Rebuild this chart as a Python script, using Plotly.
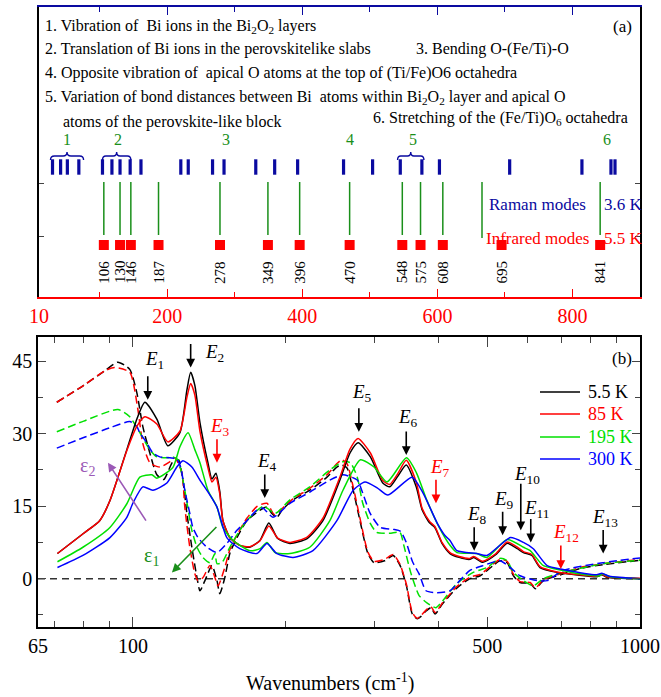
import math
import plotly.graph_objects as go

W, H = 661, 697
FONT = "Liberation Serif, Times New Roman, serif"

# ---------------- Panel (a) data ----------------
raman_modes = [30, 42, 52, 69, 104, 118, 130, 145, 161, 220, 231, 267, 284,
               331, 359, 393, 461, 504, 545, 577, 603, 707, 814, 857, 863]
ir_modes = [106, 130, 146, 187, 278, 349, 396, 470, 548, 575, 608, 695, 841]
correlated_modes = [106, 130, 146, 187, 278, 349, 396, 470, 548, 575, 608, 841]
group_labels = ["1", "2", "3", "4", "5", "6"]
group_centers = [52, 127, 287, 470, 564, 851]
brace_spans = [(27, 76), (104, 146), (541, 580)]
top_ticks = [10, 200, 400, 600, 800]
top_minor = [100, 300, 500, 700]

# ---------------- Panel (b) data ----------------
temps = ["5.5 K", "85 K", "195 K", "300 K"]
colors = ["#000000", "#ff0000", "#00e000", "#0000ff"]

wn_e2_black = [71, 80, 86, 90, 97.3, 101.8, 105.6, 111.5, 117.2, 123.8, 127.8, 130, 132.5, 135.6,
               140.6, 143.2, 145.8, 148.4, 150.5, 155.3, 162.5, 170, 178, 185.4, 193, 204, 220.6,
               237, 256, 268, 278, 294, 311, 321, 332, 346, 362, 372, 385, 394, 407, 422, 440,
               462, 470, 490, 520, 547, 573, 589, 612, 635, 686, 760, 821, 841, 860, 1000]
e2_black = [5.2, 9.4, 12, 16, 26.7, 33, 36.5, 33, 27.5, 30.2, 39, 42.7, 40, 32.3,
            24, 20.6, 21.8, 18, 12, 8.5, 6.9, 6.5, 7.9, 11.5, 8.3, 7.3, 8.3,
            12, 20.4, 26, 28.1, 25.2, 19.8, 19, 21, 23.5, 19, 14.2, 11.5, 10.6, 7.3, 5.2, 4.4,
            4.0, 4.4, 3.4, 5.0, 7.3, 6.2, 5.4, 4.8, 2.3, 1.3, 0.7, 0.4, 0.8, 0.3, 0]

wn_e2_red = wn_e2_black
e2_red = [5.2, 9.4, 12, 16, 26.5, 31.5, 33.5, 32, 28.3, 30.5, 37.5, 40.4, 38, 30.5,
          23, 20, 21, 17.5, 12, 8.5, 6.9, 6.6, 7.8, 10.9, 8.4, 7.5, 8.6,
          12.5, 21, 26.8, 29, 26, 20.3, 19.5, 21.5, 24.5, 20, 14.5, 11.8, 10.8, 7.5, 5.4, 4.6,
          4.2, 4.6, 3.6, 5.2, 7.6, 6.5, 5.6, 5.0, 2.5, 1.4, 0.8, 0.5, 0.9, 0.4, 0.1]

wn_e2_green = [71, 79.7, 90.1, 97.3, 103.2, 109, 111.5, 119.9, 123.8, 128.5, 132.5, 135.6, 140.6,
               146.5, 150.5, 157.7, 170.1, 178.2, 183.8, 190.8, 204, 223.3, 244.6, 259.6, 281,
               298.9, 317, 346.3, 362.4, 379.6, 401.9, 422, 435.6, 476.3, 499, 547, 589, 607.5,
               645, 705, 760, 833, 841, 873, 1000]
e2_green = [3.5, 6.5, 10.6, 15.5, 21, 21.5, 20.8, 23, 27.3, 30.2, 26.7, 24, 18.3,
            14.8, 10.6, 7.9, 5.8, 6.2, 7.5, 5.4, 5.2, 6.5, 12, 18.3, 24.6,
            23.1, 20, 25, 21.9, 16.3, 10.6, 6.9, 5.4, 5.2, 4.4, 8.1, 6.5, 5.8,
            2.7, 1.7, 1.0, 0.6, 1.0, 0.4, 0]

wn_e2_blue = [71, 79.7, 90.1, 97.3, 100, 104.6, 109.5, 116.7, 122.1, 125.5, 130.7, 135.6, 141.9,
              146.5, 153.2, 162.5, 175.6, 183.8, 192.3, 206.9, 226.5, 252.5, 271.9, 286.8, 303.2,
              318.3, 355.4, 373.5, 398.2, 412, 422, 435.6, 476.3, 499, 555, 589, 616, 656, 705,
              821, 841, 870, 1000]
e2_blue = [2.3, 4.8, 8.5, 12.7, 15.6, 19, 18.3, 19.8, 23.1, 24.4, 23.1, 20.4, 17.3,
           14.8, 8.5, 6.2, 5.2, 7.3, 5.2, 4.4, 5.8, 12, 18.3, 20, 18.8,
           17.3, 21, 17.7, 11.5, 9.0, 7.9, 5.8, 5.2, 4.8, 8.5, 7.5, 6.2, 2.7, 1.9,
           0.8, 1.1, 0.5, 0]

wn_e1_black = [70.8, 80, 88, 93.4, 98.6, 101.8, 104.6, 108, 111.5, 115, 119.9, 123, 125.5, 127.8,
               130.7, 133.8, 135.6, 138.7, 143.2, 146.5, 148.4, 151.8, 155.3, 160.4, 167.8, 178.2,
               183.8, 188, 192.3, 196.9, 206.9, 223.3, 241.4, 252.5, 258.4, 264.4, 271.9, 281.1,
               290.7, 298.9, 313.5, 326.1, 336.2, 346.3, 355.6, 363.6, 370, 378.5, 387.2, 394.5,
               408, 435.6, 462, 484, 513, 529.5, 547, 563, 580, 607.5, 622, 645, 687.5, 762, 845, 1000]
e1_black = [36.5, 40, 43, 44.8, 43.3, 38.5, 31.5, 26, 21.5, 20.5, 24.2, 24.6, 20.4, 13.5,
            6.5, 0.2, -2.5, -0.4, 2.7, -0.4, -3.1, 0.2, 5.2, 8.5, 12, 14.2,
            14.8, 13.5, 12.7, 14.2, 16.3, 18.3, 21, 23.1, 23.5, 22.9, 18.3, 11.5,
            5.2, 3.3, 3.7, 4.8, 2.8, -1.5, -7.3, -8.3, -7.8, -6.7, -6, -7.3,
            -5.2, -1.9, 0, 0.6, 2.7, 3.7, 3.3, 0.6, -0.8, -1, -2.1, -0.4, 0.6, 2.1, 2.9, 3.8]

wn_e1_red = [70.8, 80, 88, 92, 98.6, 102.3, 104.6, 108, 113, 118.3, 121, 124.9, 126.6, 129.5,
             132.5, 134.4, 137.4, 141.9, 145.2, 147.2, 151.8, 155.3, 160.4, 167.8, 176, 183.8,
             190, 196.9, 206.9, 223.3, 241.4, 252.5, 258.4, 264.4, 271.9, 281.1, 290.7, 298.9,
             313.5, 326.1, 336.2, 346.3, 355.6, 363.6, 370, 378.5, 387.2, 394.5, 408, 435.6,
             462, 484, 513, 529.5, 547, 563, 580, 607.5, 622, 645, 687.5, 762, 845, 1000]
e1_red = [36.5, 40, 43, 43.7, 42.7, 35, 28, 24, 23.1, 24.2, 25, 21.9, 14.8, 6.5,
          1, -0.4, 0.2, 2.7, 0.2, -1.5, 2.3, 6, 9, 12.5, 15, 15.6,
          13.3, 14.5, 16.5, 18.7, 21.5, 23.8, 24.6, 23.8, 19, 12, 5.5, 3.6,
          4, 5, 3, -1.2, -7, -8.2, -7.6, -6.5, -5.8, -7, -5, -1.6,
          0.3, 0.9, 3, 4, 3.6, 0.9, -0.6, -0.8, -1.9, -0.2, 0.8, 2.3, 3.1, 4]

wn_e1_green = [70.8, 80, 93.4, 98.6, 103.2, 108, 111.5, 116.7, 119.9, 122.8, 125.5, 128.3, 130.7,
               133.8, 137.4, 141.9, 145.2, 146.5, 149.8, 155.3, 162.5, 170.1, 181, 190.8, 204,
               223.3, 244.6, 259.6, 268.3, 277, 284, 293.7, 302.4, 320.8, 336.2, 342, 353, 366.8,
               380, 395.6, 408, 435.6, 469, 499, 529.5, 547, 562.7, 589, 616, 645, 705, 845, 1000]
e1_green = [30.4, 32.6, 35, 33.5, 30.2, 26.7, 25.2, 25, 25.2, 24.6, 20.4, 14.8, 10,
            6.5, 4.4, 3.3, 5.2, 3.1, 3.3, 6.5, 10, 12.7, 15, 13.5, 16.3,
            19, 22.5, 24.2, 24, 21, 15.6, 11.5, 9.6, 9.4, 9.6, 7, 1.3, -3.5,
            -5, -6, -4.6, -1, 1.3, 2.3, 4.2, 3.7, 1.3, -0.4, -1.5, 0, 1.3, 3.1, 3.8]

wn_e1_blue = [70.8, 80, 90, 98.6, 101.8, 103.2, 106.5, 109.5, 113, 118.3, 122, 124.2, 126.6,
              129.5, 131.3, 134.4, 140, 146.5, 153.2, 160.4, 167.8, 175.6, 180.4, 188.9, 204,
              223.3, 244.6, 259.6, 277, 284, 293.7, 307.6, 326.1, 337, 346, 356, 366.8, 378.5,
              398, 422, 441, 462, 490, 529.5, 555, 580, 626, 656, 705, 845, 1000]
e1_blue = [27, 29.2, 31.2, 32.5, 31.5, 30.2, 28.1, 26, 25.2, 25, 24.8, 23.1, 18.3,
           13.5, 10.6, 8.5, 6.5, 5.4, 7.3, 10, 12, 14.2, 14.6, 12.7, 15.6,
           17.9, 20.4, 21.5, 20.4, 17.7, 13.5, 10.6, 10.2, 9.8, 7.5, 3.5, 1, -2.5,
           -2.9, -2.5, -0.4, 1.7, 2.7, 3.7, 2.3, 0.6, -0.4, -0.4, 1.7, 3.3, 4.3]

eps2_sets = [(wn_e2_black, e2_black), (wn_e2_red, e2_red), (wn_e2_green, e2_green), (wn_e2_blue, e2_blue)]
eps1_sets = [(wn_e1_black, e1_black), (wn_e1_red, e1_red), (wn_e1_green, e1_green), (wn_e1_blue, e1_blue)]

mode_names = ["E1", "E2", "E3", "E4", "E5", "E6", "E7", "E8", "E9", "E10", "E11", "E12", "E13"]
mode_wn = [107, 130, 146.5, 182, 279, 346, 396, 471, 536, 582, 609, 698, 846]
mode_tip = [37.0, 43.7, 24.0, 16.7, 30.4, 25.6, 15.6, 5.8, 9.0, 10.0, 7.5, 2.0, 5.2]
mode_red = {"E3", "E7", "E12"}

x_ticks_b = [65, 100, 500, 1000]
y_ticks_b = [0, 15, 30, 45]

# ---------------- helpers (layout geometry, pixels -> paper) ----------------
def px(x):
    return x / W

def py(y):
    return 1 - y / H

A_L, A_R, A_T, A_B = 39, 640, 7, 297
B_L, B_R, B_T, B_B = 38, 640, 337, 627
# panel (a) vertical layout in axis units (0 at bottom, 290 at top)
ROW_RAMAN = 130
ROW_LINE = (62, 115)
ROW_IR = 52
ROW_IRLAB = 25
ROW_GROUP = 157
BRACE_Y = (137, 145)

fig = go.Figure()

# ---------------- Panel (a) traces ----------------
fig.add_trace(go.Scatter(
    x=raman_modes, y=[ROW_RAMAN] * len(raman_modes), mode="markers",
    marker=dict(symbol="line-ns", size=11, line=dict(width=3.2, color="#0a0aa0")),
    xaxis="x", yaxis="y", showlegend=False, hoverinfo="skip"))

lx, ly = [], []
for m in correlated_modes:
    lx += [m, m, None]
    ly += [ROW_LINE[0], ROW_LINE[1], None]
fig.add_trace(go.Scatter(x=lx, y=ly, mode="lines", line=dict(color="#1a8f1a", width=1.5),
                         xaxis="x", yaxis="y", showlegend=False, hoverinfo="skip"))

fig.add_trace(go.Scatter(
    x=ir_modes, y=[ROW_IR] * len(ir_modes), mode="markers",
    marker=dict(symbol="square", size=10, color="#ff0000", line=dict(width=0)),
    xaxis="x", yaxis="y", showlegend=False, hoverinfo="skip"))

# dummy trace for the top (navy) axis of panel (a)
fig.add_trace(go.Scatter(x=[10], y=[0], mode="markers", marker=dict(opacity=0),
                         xaxis="x3", yaxis="y", showlegend=False, hoverinfo="skip"))

# ---------------- Panel (b) traces ----------------
fig.add_trace(go.Scatter(x=[65, 1000], y=[0, 0], mode="lines",
                         line=dict(color="#333333", width=1.5, dash="7px,5px"),
                         xaxis="x2", yaxis="y2", showlegend=False, hoverinfo="skip"))
for (wx, wy), c in zip(eps1_sets, colors):
    fig.add_trace(go.Scatter(x=wx, y=wy, mode="lines",
                             line=dict(color=c, width=1.5, dash="8px,4px", shape="spline", smoothing=0.6),
                             xaxis="x2", yaxis="y2", showlegend=False, hoverinfo="skip"))
for (wx, wy), c in zip(eps2_sets, colors):
    fig.add_trace(go.Scatter(x=wx, y=wy, mode="lines",
                             line=dict(color=c, width=1.5, shape="spline", smoothing=0.6),
                             xaxis="x2", yaxis="y2", showlegend=False, hoverinfo="skip"))

ann = []
shapes = []

# ---------- panel (a) texts ----------
txt = dict(font=dict(family=FONT, size=16, color="black"), showarrow=False,
           xref="paper", yref="paper", xanchor="left", yanchor="middle")
lines_a = [
    ("1. Vibration of  Bi ions in the Bi<sub>2</sub>O<sub>2</sub> layers", 43, 26),
    ("2. Translation of Bi ions in the perovskitelike slabs", 43, 49),
    ("3. Bending O-(Fe/Ti)-O", 414, 49),
    ("4. Opposite vibration of  apical O atoms at the top of (Ti/Fe)O6 octahedra", 43, 73),
    ("5. Variation of bond distances between Bi  atoms within Bi<sub>2</sub>O<sub>2</sub> layer and apical O", 43, 97),
    ("atoms of the perovskite-like block", 61, 122),
    ("6. Stretching of the (Fe/Ti)O<sub>6</sub> octahedra", 371, 118),
]
for t, x0, y0 in lines_a:
    ann.append(dict(text=t, x=px(x0), y=py(y0), **txt))
ann.append(dict(text="(a)", x=px(634), y=py(27), xref="paper", yref="paper", xanchor="right",
                yanchor="middle", showarrow=False, font=dict(family=FONT, size=17, color="black")))

for g, c in zip(group_labels, group_centers):
    ann.append(dict(text=g, x=c, y=ROW_GROUP, xref="x", yref="y", showarrow=False, xanchor="center",
                    font=dict(family=FONT, size=16, color="#1a8f1a")))

for v in ir_modes:
    ann.append(dict(text=str(v), x=v, y=ROW_IRLAB, xref="x", yref="y", showarrow=False, xanchor="center",
                    textangle=-90, font=dict(family=FONT, size=15, color="black")))

ann.append(dict(text="Raman modes", x=px(537), y=py(193), xref="paper", yref="paper", showarrow=False,
                xanchor="center", font=dict(family=FONT, size=17, color="#0a0aa0")))
ann.append(dict(text="Infrared modes", x=px(537), y=py(227), xref="paper", yref="paper", showarrow=False,
                xanchor="center", font=dict(family=FONT, size=17, color="#ff0000")))
ann.append(dict(text="3.6 K", x=px(602), y=py(193), xref="paper", yref="paper", showarrow=False,
                xanchor="left", font=dict(family=FONT, size=17, color="#0a0aa0")))
ann.append(dict(text="5.5 K", x=px(602), y=py(227), xref="paper", yref="paper", showarrow=False,
                xanchor="left", font=dict(family=FONT, size=17, color="#ff0000")))
shapes.append(dict(type="line", xref="paper", yref="paper", x0=px(482), x1=px(482), y0=py(182), y1=py(238),
                   line=dict(color="#1a8f1a", width=1.5)))

# braces
for a, b in brace_spans:
    m = (a + b) / 2
    y0, y1 = BRACE_Y
    ym = (y0 + y1) / 2
    d = (b - a) * 0.12
    path = (f"M {a},{y0} Q {a},{ym} {a+d},{ym} L {m-d},{ym} Q {m},{ym} {m},{y1} "
            f"Q {m},{ym} {m+d},{ym} L {b-d},{ym} Q {b},{ym} {b},{y0}")
    shapes.append(dict(type="path", xref="x", yref="y", path=path,
                       line=dict(color="#0a0aa0", width=1.4)))

# ---------- panel (b) annotations ----------
for name, w, tip in zip(mode_names, mode_wn, mode_tip):
    col = "#ff0000" if name in mode_red else "#000000"
    length = 48 if name == "E10" else 25
    ann.append(dict(text="", x=math.log10(w), y=tip, xref="x2", yref="y2", ax=0, ay=-length,
                    showarrow=True, arrowhead=2, arrowsize=1.1, arrowwidth=1.6, arrowcolor=col))

label_pos = {"E1": (154, 360), "E2": (214, 353), "E3": (220, 427), "E4": (267, 462), "E5": (362, 393),
             "E6": (408, 418), "E7": (440, 468), "E8": (477, 515), "E9": (504, 500), "E10": (527, 475),
             "E11": (536, 509), "E12": (566, 533), "E13": (605, 518)}
for name in mode_names:
    col = "#ff0000" if name in mode_red else "#000000"
    lx0, ly0 = label_pos[name]
    ann.append(dict(text=f"<i>E</i><sub>{name[1:]}</sub>", x=px(lx0), y=py(ly0), xref="paper", yref="paper",
                    xanchor="center", yanchor="middle",
                    showarrow=False, font=dict(family=FONT, size=19, color=col)))

# epsilon arrows
ann.append(dict(text="", x=math.log10(89.3), y=24.0, ax=math.log10(106.6), ay=11.7,
                xref="x2", yref="y2", axref="x2", ayref="y2", showarrow=True,
                arrowhead=2, arrowsize=1.1, arrowwidth=1.6, arrowcolor="#9b59b6"))
ann.append(dict(text="ε<sub>2</sub>", x=px(87), y=py(466), xref="paper", yref="paper", showarrow=False,
                xanchor="center", yanchor="middle", font=dict(family=FONT, size=20, color="#9b59b6")))
ann.append(dict(text="", x=math.log10(119.4), y=1.3, ax=math.log10(147.1), ay=11.0,
                xref="x2", yref="y2", axref="x2", ayref="y2", showarrow=True,
                arrowhead=2, arrowsize=1.1, arrowwidth=1.6, arrowcolor="#1a8f1a"))
ann.append(dict(text="ε<sub>1</sub>", x=px(151), y=py(556), xref="paper", yref="paper", showarrow=False,
                xanchor="center", yanchor="middle", font=dict(family=FONT, size=20, color="#1a8f1a")))

ann.append(dict(text="(b)", x=px(634), y=py(358), xref="paper", yref="paper", xanchor="right",
                yanchor="middle", showarrow=False, font=dict(family=FONT, size=17, color="black")))

# legend (manual)
leg_y = [392, 414, 437, 459]
for t, c, yy in zip(temps, colors, leg_y):
    shapes.append(dict(type="line", xref="paper", yref="paper", x0=px(540), x1=px(580), y0=py(yy), y1=py(yy),
                       line=dict(color=c, width=1.5)))
    ann.append(dict(text=t, x=px(586), y=py(yy), xref="paper", yref="paper", xanchor="left", yanchor="middle",
                    showarrow=False, font=dict(family=FONT, size=18, color=c)))

ann.append(dict(text="Wavenumbers (cm<sup>-1</sup>)", x=px(330), y=py(682), xref="paper", yref="paper",
                xanchor="center", yanchor="middle",
                showarrow=False, font=dict(family=FONT, size=20, color="black")))

fig.update_layout(
    template="none",
    width=W, height=H, margin=dict(l=0, r=0, t=0, b=0, pad=0, autoexpand=False),
    font=dict(family=FONT, size=16, color="black"),
    paper_bgcolor="white", plot_bgcolor="white", showlegend=False,
    annotations=ann, shapes=shapes,
    xaxis=dict(domain=[px(A_L), px(A_R)], range=[10, 900], anchor="y", showgrid=False, zeroline=False,
               automargin=False,
               showline=True, linecolor="#ff0000", linewidth=1.5, ticks="inside", ticklen=8, tickwidth=1.2,
               tickcolor="#ff0000", tickmode="array", tickvals=top_ticks, ticktext=[str(v) for v in top_ticks],
               tickfont=dict(family=FONT, size=20, color="#ff0000"),
               minor=dict(tickmode="array", tickvals=top_minor, ticks="inside", ticklen=5, tickcolor="#ff0000",
                          tickwidth=1.2, showgrid=False)),
    xaxis3=dict(overlaying="x", side="top", anchor="y", range=[10, 900], showgrid=False, zeroline=False,
                automargin=False,
                showline=True, linecolor="#0a0aa0", linewidth=1.5, ticks="inside", ticklen=8, tickwidth=1.2,
                tickcolor="#0a0aa0", tickmode="array", tickvals=top_ticks[1:], showticklabels=False,
                minor=dict(tickmode="array", tickvals=top_minor, ticks="inside", ticklen=5, tickcolor="#0a0aa0",
                           tickwidth=1.2, showgrid=False)),
    yaxis=dict(domain=[py(A_B), py(A_T)], range=[0, 290], anchor="x", showgrid=False, zeroline=False,
               automargin=False,
               showline=True, linecolor="black", linewidth=1.5, mirror="ticks", ticks="inside", ticklen=5,
               tickmode="array", tickvals=[61, 114], showticklabels=False),
    xaxis2=dict(type="log", domain=[px(B_L), px(B_R)], range=[math.log10(65), 3], anchor="y2",
                automargin=False,
                showgrid=False, zeroline=False, showline=True, linecolor="black", linewidth=1.5,
                mirror="ticks", ticks="inside", ticklen=10, tickwidth=1.2, tickmode="array",
                tickvals=x_ticks_b, ticktext=[str(v) for v in x_ticks_b],
                tickfont=dict(family=FONT, size=20, color="black"),
                minor=dict(tickmode="array", tickvals=[70, 80, 90, 200, 300, 400, 600, 700, 800, 900],
                           ticks="inside", ticklen=6, tickwidth=1.2, showgrid=False)),
    yaxis2=dict(domain=[py(B_B), py(B_T)], range=[-10, 50], anchor="x2", showgrid=False, zeroline=False,
                automargin=False,
                showline=True, linecolor="black", linewidth=1.5, mirror="ticks", ticks="inside", ticklen=8,
                tickwidth=1.2, tickmode="array", tickvals=y_ticks_b, ticktext=[str(v) for v in y_ticks_b],
                tickfont=dict(family=FONT, size=20, color="black"),
                minor=dict(tickmode="array", tickvals=[-7.5, 7.5, 22.5, 37.5], ticks="inside", ticklen=5,
                           tickwidth=1.2, showgrid=False)),
)

fig.write_html("out.html", config={"displayModeBar": False},
               post_script="document.body.style.margin='0';document.body.style.overflow='hidden';")
